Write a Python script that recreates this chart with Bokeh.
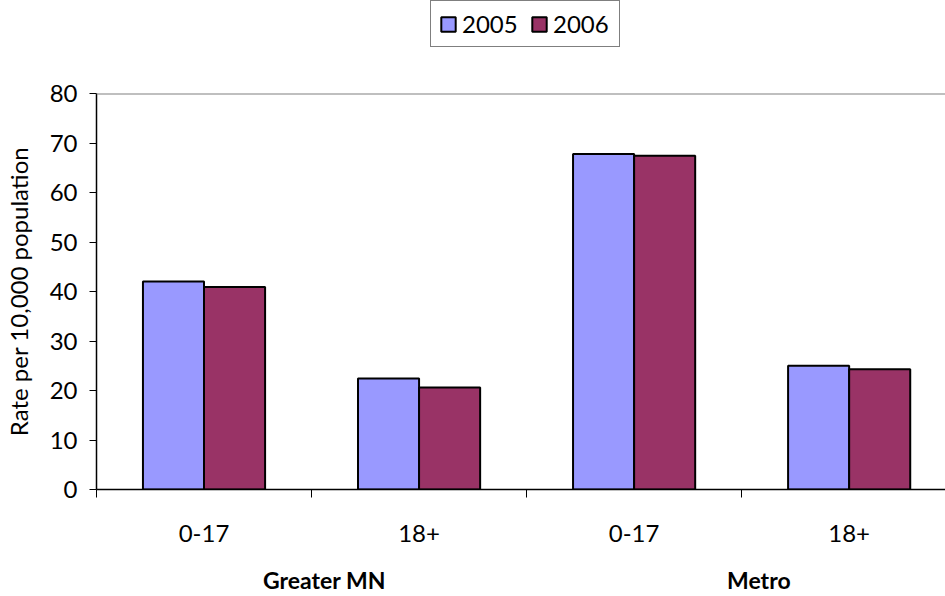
import numpy as np
from bokeh.plotting import figure
from bokeh.layouts import column
from bokeh.models import (ColumnDataSource, Range1d, FixedTicker, LinearAxis,
                          Legend, LegendItem, Span)
from bokeh.embed import file_html
from bokeh.resources import INLINE

# data
regions = ["Greater MN", "Metro"]
age_groups = ["0-17", "18+", "0-17", "18+"]
series = ["2005", "2006"]
rate_2005 = [42.0, 22.4, 67.8, 25.0]
rate_2006 = [40.9, 20.6, 67.4, 24.3]
colors = ["#9999FF", "#993366"]

FONT = "Lato"
FS = "24px"

p = figure(width=945, height=546, output_backend="svg", toolbar_location=None,
           x_range=Range1d(0, 3.948), y_range=Range1d(0, 80),
           min_border_left=95, min_border_right=0, min_border_top=43,
           min_border_bottom=106, x_axis_type=None)
p.outline_line_color = None
p.grid.grid_line_color = None

centers = np.arange(len(age_groups)) + 0.5
source = ColumnDataSource(dict(x05=centers - 0.142, x06=centers + 0.142,
                               y05=rate_2005, y06=rate_2006))

p.vbar(x="x05", top="y05", width=0.284, source=source,
       fill_color=colors[0], line_color="black", line_width=2)
p.vbar(x="x06", top="y06", width=0.284, source=source,
       fill_color=colors[1], line_color="black", line_width=2)

# plot area top border
p.add_layout(Span(location=80, dimension="width", line_color="#808080", line_width=2))

# y axis
p.yaxis.ticker = FixedTicker(ticks=list(range(0, 81, 10)))
p.yaxis.axis_label = "Rate per 10,000 population"
p.yaxis.axis_label_text_font = FONT
p.yaxis.axis_label_text_font_style = "normal"
p.yaxis.axis_label_text_font_size = FS
p.yaxis.axis_label_text_color = "black"
p.yaxis.axis_label_standoff = 14
p.yaxis.major_label_text_font = FONT
p.yaxis.major_label_text_font_size = FS
p.yaxis.major_label_text_color = "black"
p.yaxis.major_label_standoff = 12
p.yaxis.major_tick_in = 0
p.yaxis.major_tick_out = 7
p.yaxis.minor_tick_line_color = None
p.yaxis.axis_line_color = "black"
p.yaxis.axis_line_width = 1.5

# x axis: age groups, ticks between categories
xaxis = LinearAxis(ticker=FixedTicker(ticks=list(centers),
                                      minor_ticks=list(range(len(age_groups) + 1))))
xaxis.major_label_overrides = {float(c): g for c, g in zip(centers, age_groups)}
xaxis.major_tick_in = 0
xaxis.major_tick_out = 0
xaxis.minor_tick_in = 0
xaxis.minor_tick_out = 8
xaxis.minor_tick_line_color = "black"
xaxis.axis_line_color = "black"
xaxis.axis_line_width = 1.5
xaxis.major_label_text_font = FONT
xaxis.major_label_text_font_size = FS
xaxis.major_label_text_color = "black"
xaxis.major_label_standoff = 27
p.add_layout(xaxis, "below")

# second level: regions
gaxis = LinearAxis(ticker=FixedTicker(ticks=[1.06, 3.08]))
gaxis.major_label_overrides = {1.06: regions[0], 3.08: regions[1]}
gaxis.axis_line_color = None
gaxis.major_tick_line_color = None
gaxis.minor_tick_line_color = None
gaxis.major_label_text_font = FONT
gaxis.major_label_text_font_style = "bold"
gaxis.major_label_text_font_size = "23px"
gaxis.major_label_text_color = "black"
gaxis.major_label_standoff = 15
p.add_layout(gaxis, "below")

# legend strip above the chart (bars pushed out of its view, only the legend shows)
lg = figure(width=945, height=50, output_backend="svg", toolbar_location=None,
            x_range=Range1d(-101, -100), y_range=Range1d(200, 201),
            min_border=0, x_axis_type=None, y_axis_type=None)
lg.outline_line_color = None
lg.grid.grid_line_color = None
items = []
for name, key, c in zip(series, ["y05", "y06"], colors):
    r = lg.vbar(x="x05", top=key, width=0.284, source=source,
                fill_color=c, line_color="black", line_width=2)
    items.append(LegendItem(label=name, renderers=[r]))
legend = Legend(items=items, orientation="horizontal", location=(334, 3),
                label_text_font=FONT, label_text_font_size=FS,
                label_text_color="black", label_width=58,
                border_line_color="black", border_line_width=1.5,
                glyph_width=18, glyph_height=18, spacing=10,
                label_standoff=5, padding=8, margin=0)
lg.add_layout(legend, "center")

layout = column(lg, p, spacing=0)
open("out.html", "w").write(file_html(layout, INLINE))
